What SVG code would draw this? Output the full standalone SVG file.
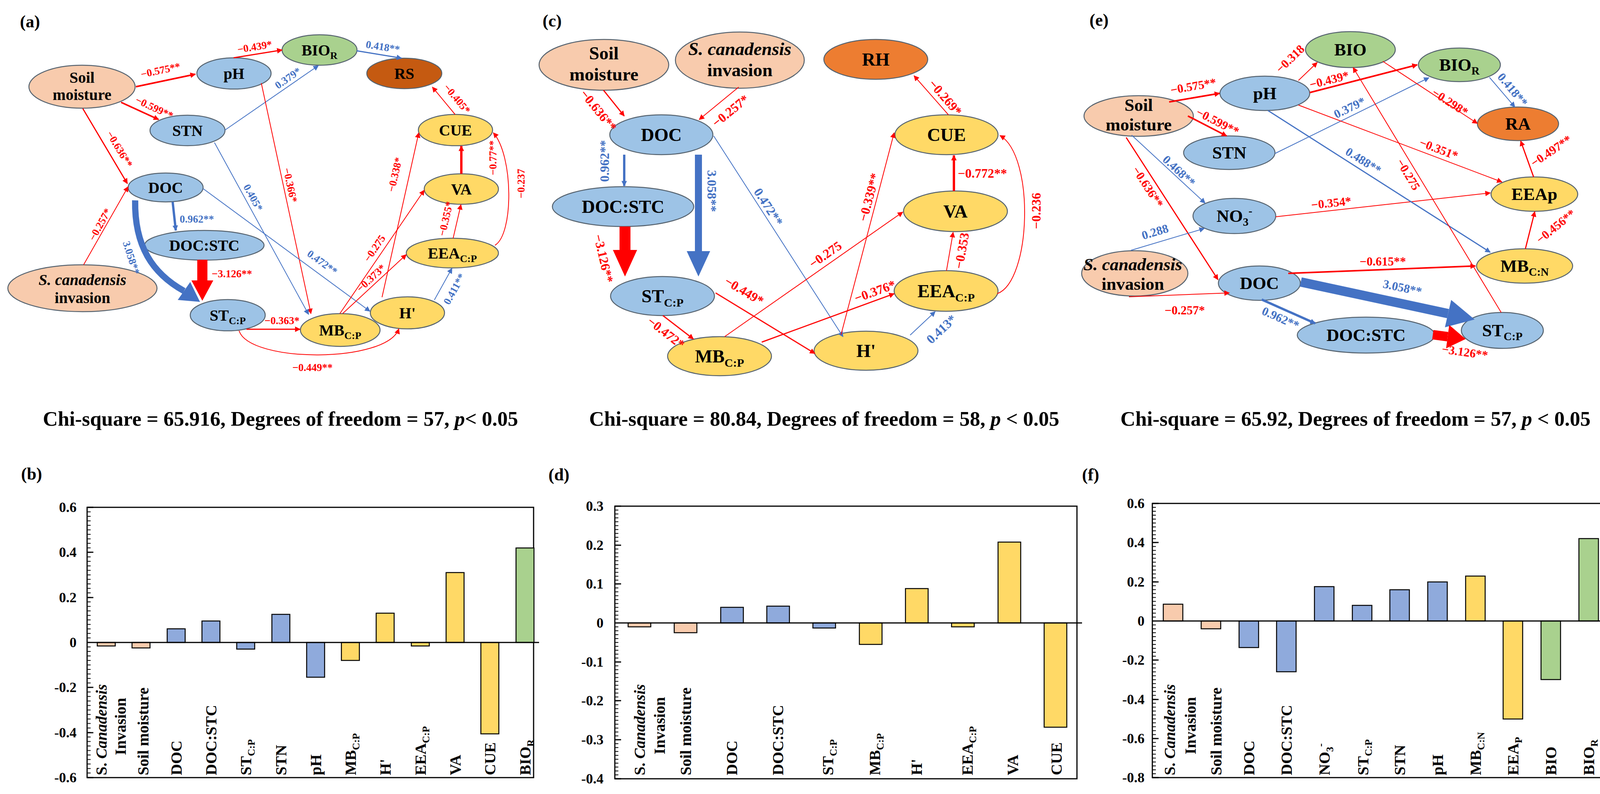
<svg xmlns="http://www.w3.org/2000/svg" width="4193" height="2033" viewBox="0 0 4193 2033">
<style>
text{font-family:"Liberation Serif","Times New Roman",serif;font-weight:bold}
.el{stroke:#56636f;stroke-width:2.5}
.pe{fill:#F8CBAD}.bl{fill:#9DC3E6}.ye{fill:#FFD966}.gr{fill:#A9D18E}.o1{fill:#C55A11}.o2{fill:#ED7D31}.bb{fill:#8FAADC}
.ta{font-size:40px;text-anchor:middle}
.tc{font-size:47px;text-anchor:middle}
.te{font-size:45px;text-anchor:middle}
.r{stroke:#FF0000;fill:none}
.b{stroke:#4472C4;fill:none}
.w2{stroke-width:2}.w3{stroke-width:3}.w4{stroke-width:4}.w5{stroke-width:6}
.ar{marker-end:url(#mr)}.ab{marker-end:url(#mb)}
.lr{fill:#FF0000}.lb{fill:#4472C4}
.la{font-size:27px;text-anchor:middle}
.lc{font-size:33px;text-anchor:middle}
.le{font-size:31px;text-anchor:middle}
.cap{font-size:53px;text-anchor:middle}
.pl{font-size:44px}
.tk{font-size:36px;text-anchor:end}
.xl{font-size:40px}
.xm{font-size:40px;text-anchor:middle}
.bar rect{stroke:#000;stroke-width:2.5}
.ax{stroke:#000;stroke-width:3;fill:none}
</style>
<defs>
<marker id="mr" viewBox="0 0 10 10" refX="9" refY="5" markerWidth="18" markerHeight="14" markerUnits="userSpaceOnUse" orient="auto"><path d="M0,0L10,5L0,10z" fill="#FF0000"/></marker>
<marker id="mb" viewBox="0 0 10 10" refX="9" refY="5" markerWidth="18" markerHeight="14" markerUnits="userSpaceOnUse" orient="auto"><path d="M0,0L10,5L0,10z" fill="#4472C4"/></marker>
<pattern id="tb" patternUnits="userSpaceOnUse" x="0" y="1298" width="10" height="11.53"><rect width="10" height="2" fill="#000"/></pattern>
<pattern id="td" patternUnits="userSpaceOnUse" x="0" y="1295" width="10" height="9.97"><rect width="10" height="2" fill="#000"/></pattern>
<pattern id="tf" patternUnits="userSpaceOnUse" x="0" y="1288" width="10" height="10.03"><rect width="10" height="2" fill="#000"/></pattern>
</defs>
<rect width="4193" height="2033" fill="#fff"/>

<g id="panel-labels">
<text class="pl" x="51" y="70">(a)</text>
<text class="pl" x="1389" y="68">(c)</text>
<text class="pl" x="2789" y="66">(e)</text>
<text class="pl" x="54" y="1228">(b)</text>
<text class="pl" x="1404" y="1230">(d)</text>
<text class="pl" x="2770" y="1230">(f)</text>
</g>

<!-- ===== Panel (a) nodes ===== -->
<g id="a-soil"><ellipse class="el pe" cx="210" cy="222" rx="136" ry="55"/><text class="ta"><tspan x="210" y="212">Soil</tspan><tspan x="210" y="256">moisture</tspan></text></g>
<g id="a-ph"><ellipse class="el bl" cx="599" cy="188" rx="95" ry="40"/><text class="ta" x="599" y="202">pH</text></g>
<g id="a-stn"><ellipse class="el bl" cx="480" cy="334" rx="96" ry="39"/><text class="ta" x="480" y="348">STN</text></g>
<g id="a-bior"><ellipse class="el gr" cx="818" cy="128" rx="96" ry="39"/><text class="ta" x="818" y="142">BIO<tspan font-size="26" dy="9">R</tspan></text></g>
<g id="a-rs"><ellipse class="el o1" cx="1035" cy="188" rx="96" ry="39"/><text class="ta" x="1035" y="202">RS</text></g>
<g id="a-cue"><ellipse class="el ye" cx="1166" cy="333" rx="95" ry="40"/><text class="ta" x="1166" y="347">CUE</text></g>
<g id="a-va"><ellipse class="el ye" cx="1181" cy="484" rx="95" ry="39"/><text class="ta" x="1181" y="498">VA</text></g>
<g id="a-eea"><ellipse class="el ye" cx="1158" cy="648" rx="118" ry="38"/><text class="ta" x="1158" y="662">EEA<tspan font-size="26" dy="9">C:P</tspan></text></g>
<g id="a-mb"><ellipse class="el ye" cx="871" cy="845" rx="102" ry="42"/><text class="ta" x="871" y="859">MB<tspan font-size="26" dy="9">C:P</tspan></text></g>
<g id="a-h"><ellipse class="el ye" cx="1043" cy="801" rx="95" ry="41"/><text class="ta" x="1043" y="815">H'</text></g>
<g id="a-doc"><ellipse class="el bl" cx="424" cy="480" rx="96" ry="37"/><text class="ta" x="424" y="494">DOC</text></g>
<g id="a-docstc"><ellipse class="el bl" cx="523" cy="628" rx="153" ry="38"/><text class="ta" x="523" y="642">DOC:STC</text></g>
<g id="a-scan"><ellipse class="el pe" cx="211" cy="738" rx="191" ry="60"/><text class="ta"><tspan x="211" y="730" font-style="italic">S. canadensis</tspan><tspan x="211" y="776">invasion</tspan></text></g>
<g id="a-st"><ellipse class="el bl" cx="583" cy="807" rx="96" ry="40"/><text class="ta" x="583" y="821">ST<tspan font-size="26" dy="9">C:P</tspan></text></g>

<!-- ===== Panel (c) nodes ===== -->
<g id="c-soil"><ellipse class="el pe" cx="1546" cy="166" rx="166" ry="65"/><text class="tc"><tspan x="1546" y="152">Soil</tspan><tspan x="1546" y="206">moisture</tspan></text></g>
<g id="c-scan"><ellipse class="el pe" cx="1894" cy="154" rx="165" ry="72"/><text class="tc"><tspan x="1894" y="141" font-style="italic">S. canadensis</tspan><tspan x="1894" y="195">invasion</tspan></text></g>
<g id="c-doc"><ellipse class="el bl" cx="1693" cy="345" rx="132" ry="51"/><text class="tc" x="1693" y="361">DOC</text></g>
<g id="c-docstc"><ellipse class="el bl" cx="1595" cy="529" rx="181" ry="51"/><text class="tc" x="1595" y="545">DOC:STC</text></g>
<g id="c-st"><ellipse class="el bl" cx="1696" cy="758" rx="133" ry="50"/><text class="tc" x="1696" y="774">ST<tspan font-size="30" dy="11">C:P</tspan></text></g>
<g id="c-rh"><ellipse class="el o2" cx="2242" cy="152" rx="133" ry="51"/><text class="tc" x="2242" y="168">RH</text></g>
<g id="c-cue"><ellipse class="el ye" cx="2423" cy="345" rx="132" ry="51"/><text class="tc" x="2423" y="361">CUE</text></g>
<g id="c-va"><ellipse class="el ye" cx="2446" cy="541" rx="133" ry="52"/><text class="tc" x="2446" y="557">VA</text></g>
<g id="c-eea"><ellipse class="el ye" cx="2422" cy="745" rx="133" ry="52"/><text class="tc" x="2422" y="761">EEA<tspan font-size="30" dy="11">C:P</tspan></text></g>
<g id="c-mb"><ellipse class="el ye" cx="1842" cy="912" rx="133" ry="50"/><text class="tc" x="1842" y="928">MB<tspan font-size="30" dy="11">C:P</tspan></text></g>
<g id="c-h"><ellipse class="el ye" cx="2217" cy="898" rx="133" ry="50"/><text class="tc" x="2217" y="914">H'</text></g>

<!-- ===== Panel (e) nodes ===== -->
<g id="e-soil"><ellipse class="el pe" cx="2915" cy="297" rx="140" ry="52"/><text class="te"><tspan x="2915" y="284">Soil</tspan><tspan x="2915" y="334">moisture</tspan></text></g>
<g id="e-ph"><ellipse class="el bl" cx="3238" cy="239" rx="115" ry="44"/><text class="te" x="3238" y="254">pH</text></g>
<g id="e-stn"><ellipse class="el bl" cx="3147" cy="391" rx="117" ry="43"/><text class="te" x="3147" y="406">STN</text></g>
<g id="e-no3"><ellipse class="el bl" cx="3160" cy="553" rx="106" ry="45"/><text class="te" x="3160" y="568">NO<tspan font-size="29" dy="10">3</tspan><tspan font-size="29" dy="-28">-</tspan></text></g>
<g id="e-scan"><ellipse class="el pe" cx="2905" cy="700" rx="136" ry="58"/><text class="te"><tspan x="2900" y="692" font-style="italic">S. canadensis</tspan><tspan x="2900" y="742">invasion</tspan></text></g>
<g id="e-doc"><ellipse class="el bl" cx="3224" cy="725" rx="105" ry="44"/><text class="te" x="3224" y="740">DOC</text></g>
<g id="e-docstc"><ellipse class="el bl" cx="3497" cy="858" rx="176" ry="46"/><text class="te" x="3497" y="873">DOC:STC</text></g>
<g id="e-st"><ellipse class="el bl" cx="3846" cy="846" rx="105" ry="46"/><text class="te" x="3846" y="861">ST<tspan font-size="29" dy="10">C:P</tspan></text></g>
<g id="e-bio"><ellipse class="el gr" cx="3457" cy="127" rx="115" ry="46"/><text class="te" x="3457" y="142">BIO</text></g>
<g id="e-bior"><ellipse class="el gr" cx="3736" cy="166" rx="105" ry="43"/><text class="te" x="3736" y="181">BIO<tspan font-size="29" dy="10">R</tspan></text></g>
<g id="e-ra"><ellipse class="el o2" cx="3886" cy="317" rx="104" ry="43"/><text class="te" x="3886" y="332">RA</text></g>
<g id="e-eeap"><ellipse class="el ye" cx="3928" cy="497" rx="111" ry="44"/><text class="te" x="3928" y="512">EEAp</text></g>
<g id="e-mbcn"><ellipse class="el ye" cx="3903" cy="681" rx="123" ry="44"/><text class="te" x="3903" y="696">MB<tspan font-size="29" dy="10">C:N</tspan></text></g>

<!-- ===== Connectors ===== -->
<g id="connectors">
<path class="r w4 ar" d="M348,222L500,190"/>
<path class="r w4 ar" d="M310,262L406,306"/>
<path class="r w3 ar" d="M212,278L326,470"/>
<path class="r w2 ar" d="M214,678L328,478"/>
<path class="r w3 ar" d="M598,148L722,128"/>
<path class="b w2 ab" d="M576,333L815,168"/>
<path class="b w3 ab" d="M913,130L1028,149"/>
<path class="r w2 ar" d="M669,213L796,803"/>
<path class="b w2 ab" d="M549,365L790,805"/>
<path class="b w2 ab" d="M520,483L947,797"/>
<path class="b w5 ab" d="M442,517L450,590"/>
<path d="M346,513C344,630 390,700 471,745" fill="none" stroke="#4472C4" stroke-width="16"/>
<polygon points="512,773 455,768 487,722" fill="#4472C4"/>
<rect x="505" y="665" width="26" height="55" fill="#FF0000"/>
<polygon points="490,718 546,718 518,770" fill="#FF0000"/>
<path class="r w3 ar" d="M631,843L768,843"/>
<path class="r w2 ar" d="M612,847C640,930 990,930 1021,842"/>
<path class="r w2 ar" d="M870,803L1086,487"/>
<path class="r w2 ar" d="M877,803L1040,652"/>
<path class="r w2 ar" d="M978,761L1072,340"/>
<path class="r w2 ar" d="M1160,610L1180,524"/>
<path class="r w5 ar" d="M1181,445L1181,374"/>
<path class="r w2 ar" d="M1267,628C1315,600 1315,400 1263,340"/>
<path class="b w2 ab" d="M1112,768L1157,687"/>
<path class="r w2 ar" d="M1165,293L1107,223"/>

<path class="r w3 ar" d="M1545,231L1598,297"/>
<path class="r w2 ar" d="M1891,223L1790,306"/>
<path class="b w5 ab" d="M1598,396L1598,476"/>
<rect x="1779" y="396" width="18" height="250" fill="#4472C4"/>
<polygon points="1758,643 1818,643 1788,708" fill="#4472C4"/>
<rect x="1586" y="580" width="28" height="62" fill="#FF0000"/>
<polygon points="1569,640 1631,640 1600,708" fill="#FF0000"/>
<path class="b w2 ab" d="M1827,348L2158,862"/>
<path class="r w3 ar" d="M1832,750L2086,905"/>
<path class="r w3 ar" d="M1697,808L1775,868"/>
<path class="r w2 ar" d="M1855,862L2311,543"/>
<path class="r w3 ar" d="M1950,876L2289,752"/>
<path class="r w2 ar" d="M2153,857L2289,340"/>
<path class="r w5 ar" d="M2442,489L2442,398"/>
<path class="r w2 ar" d="M2423,693L2440,595"/>
<path class="r w2 ar" d="M2553,752C2640,720 2650,400 2560,347"/>
<path class="r w2 ar" d="M2428,294L2340,194"/>
<path class="b w2 ab" d="M2330,858L2394,798"/>

<path class="r w4 ar" d="M2993,261L3122,239"/>
<path class="r w4 ar" d="M3041,297L3140,348"/>
<path class="b w2 ab" d="M2897,346L3085,520"/>
<path class="r w3 ar" d="M2883,352L3118,716"/>
<path class="b w2 ab" d="M2895,641L3083,585"/>
<path class="r w2 ar" d="M2890,760L3147,750"/>
<path class="b w5 ab" d="M3230,767L3367,828"/>
<path d="M3330,722L3707,803" fill="none" stroke="#4472C4" stroke-width="24"/>
<polygon points="3775,818 3699,838 3715,768" fill="#4472C4"/>
<path d="M3668,857L3706,862" fill="none" stroke="#FF0000" stroke-width="24"/>
<polygon points="3752,868 3702,892 3710,832" fill="#FF0000"/>
<path class="r w4 ar" d="M3298,700L3777,681"/>
<path class="r w2 ar" d="M3266,555L3815,494"/>
<path class="r w2 ar" d="M3324,206L3372,160"/>
<path class="r w4 ar" d="M3353,237L3628,166"/>
<path class="b w2 ab" d="M3264,393L3658,199"/>
<path class="b w3 ab" d="M3246,283L3815,646"/>
<path class="r w2 ar" d="M3324,269L3845,466"/>
<path class="r w2 ar" d="M3540,157L3782,316"/>
<path class="b w2 ab" d="M3813,198L3878,274"/>
<path class="r w3 ar" d="M3926,453L3893,361"/>
<path class="r w3 ar" d="M3905,637L3929,542"/>
<path class="r w2 ar" d="M3843,800L3464,173"/>
</g>

<g id="edge-labels">
<text class="lr la" transform="translate(411,180) rotate(-12)" y="9">−0.575**</text>
<text class="lr la" transform="translate(395,276) rotate(25)" y="9">−0.599**</text>
<text class="lr la" transform="translate(306,382) rotate(59)" y="9">−0.636**</text>
<text class="lr la" transform="translate(256,575) rotate(-61)" y="9">−0.257*</text>
<text class="lb la" x="460" y="570" style="text-anchor:start">0.962**</text>
<text class="lb la" transform="translate(336,660) rotate(72)" y="9">3.058**</text>
<text class="lr la" x="542" y="710" style="text-anchor:start">−3.126**</text>
<text class="lb la" transform="translate(825,672) rotate(36)" y="9">0.472**</text>
<text class="lb la" transform="translate(648,506) rotate(61)" y="9">0.405*</text>
<text class="lb la" transform="translate(737,200) rotate(-35)" y="9">0.379*</text>
<text class="lr la" transform="translate(652,120) rotate(-9)" y="9">−0.439*</text>
<text class="lr la" transform="translate(743,474) rotate(78)" y="9">−0.366*</text>
<text class="lb la" transform="translate(980,120) rotate(9)" y="9">0.418**</text>
<text class="lr la" transform="translate(1170,253) rotate(50)" y="9">−0.405*</text>
<text class="lr la" transform="translate(959,636) rotate(-56)" y="9">−0.275</text>
<text class="lr la" transform="translate(950,712) rotate(-43)" y="9">−0.373*</text>
<text class="lr la" transform="translate(1011,447) rotate(-77)" y="9">−0.338*</text>
<text class="lr la" transform="translate(1141,560) rotate(-77)" y="9">−0.355*</text>
<text class="lr la" transform="translate(1262,404) rotate(-90)" y="9">−0.77**</text>
<text class="lr la" transform="translate(1334,470) rotate(-90)" y="9">−0.237</text>
<text class="lb la" transform="translate(1163,740) rotate(-61)" y="9">0.411**</text>
<text class="lr la" x="677" y="830" style="text-anchor:start">−0.363*</text>
<text class="lr la" x="800" y="950">−0.449**</text>

<text class="lr lc" transform="translate(1532,283) rotate(51)" y="11">−0.636**</text>
<text class="lr lc" transform="translate(1870,284) rotate(-39)" y="11">−0.257*</text>
<text class="lb lc" transform="translate(1548,412) rotate(-90)" y="11">0.962**</text>
<text class="lb lc" transform="translate(1822,489) rotate(90)" y="11">3.058**</text>
<text class="lr lc" transform="translate(1545,662) rotate(77)" y="11">−3.126**</text>
<text class="lb lc" transform="translate(1967,530) rotate(57)" y="11">0.472**</text>
<text class="lr lc" transform="translate(1905,745) rotate(31)" y="11">−0.449*</text>
<text class="lr lc" transform="translate(1705,852) rotate(38)" y="11">−0.472*</text>
<text class="lr lc" transform="translate(2113,652) rotate(-35)" y="11">−0.275</text>
<text class="lr lc" transform="translate(2240,746) rotate(-20)" y="11">−0.376*</text>
<text class="lr lc" transform="translate(2225,505) rotate(-75)" y="11">−0.339**</text>
<text class="lr lc" x="2452" y="455" style="text-anchor:start">−0.772**</text>
<text class="lr lc" transform="translate(2462,642) rotate(-80)" y="11">−0.353</text>
<text class="lr lc" transform="translate(2653,540) rotate(-90)" y="11">−0.236</text>
<text class="lr lc" transform="translate(2420,250) rotate(49)" y="11">−0.269*</text>
<text class="lb lc" transform="translate(2410,843) rotate(-43)" y="11">0.413*</text>

<text class="lr le" transform="translate(3055,221) rotate(-10)" y="10">−0.575**</text>
<text class="lr le" transform="translate(3117,312) rotate(27)" y="10">−0.599**</text>
<text class="lb le" transform="translate(3018,438) rotate(43)" y="10">0.468**</text>
<text class="lr le" transform="translate(2938,479) rotate(57)" y="10">−0.636**</text>
<text class="lb le" transform="translate(2957,594) rotate(-17)" y="10">0.288</text>
<text class="lr le" x="3033" y="805">−0.257*</text>
<text class="lb le" transform="translate(3278,815) rotate(24)" y="10">0.962**</text>
<text class="lb le" transform="translate(3590,737) rotate(12)" y="10">3.058**</text>
<text class="lr le" transform="translate(3750,902) rotate(8)" y="10">−3.126**</text>
<text class="lr le" x="3540" y="680">−0.615**</text>
<text class="lr le" transform="translate(3408,520) rotate(-6)" y="10">−0.354*</text>
<text class="lr le" transform="translate(3303,151) rotate(-44)" y="10">−0.318</text>
<text class="lr le" transform="translate(3403,205) rotate(-14)" y="10">−0.439*</text>
<text class="lb le" transform="translate(3455,276) rotate(-26)" y="10">0.379*</text>
<text class="lb le" transform="translate(3490,412) rotate(32)" y="10">0.488**</text>
<text class="lr le" transform="translate(3683,382) rotate(21)" y="10">−0.351*</text>
<text class="lr le" transform="translate(3712,262) rotate(33)" y="10">−0.298*</text>
<text class="lb le" transform="translate(3872,230) rotate(50)" y="10">0.418**</text>
<text class="lr le" transform="translate(3971,387) rotate(-34)" y="10">−0.497**</text>
<text class="lr le" transform="translate(3983,580) rotate(-39)" y="10">−0.456**</text>
<text class="lr le" transform="translate(3605,447) rotate(59)" y="10">−0.275</text>
</g>

<g id="captions">
<text class="cap" x="718" y="1090">Chi-square = 65.916, Degrees of freedom = 57, <tspan font-style="italic">p</tspan>&lt; 0.05</text>
<text class="cap" x="2110" y="1090">Chi-square = 80.84, Degrees of freedom = 58, <tspan font-style="italic">p</tspan> &lt; 0.05</text>
<text class="cap" x="3470" y="1090">Chi-square = 65.92, Degrees of freedom = 57, <tspan font-style="italic">p</tspan> &lt; 0.05</text>
</g>

<!-- ===== Chart (b) ===== -->
<g id="chart-b">
<rect x="223" y="1298" width="9" height="695" fill="url(#tb)"/>
<path class="ax" d="M223,1299h16M223,1414h16M223,1530h16M223,1760h16M223,1876h16M223,1991h16"/>
<rect class="ax" x="223" y="1299" width="1143" height="692"/>
<g class="bar">
<rect class="pe" x="249" y="1645" width="46" height="9"/>
<rect class="pe" x="338" y="1645" width="46" height="14"/>
<rect class="bb" x="428" y="1610" width="46" height="35"/>
<rect class="bb" x="517" y="1590" width="46" height="55"/>
<rect class="bb" x="606" y="1645" width="46" height="17"/>
<rect class="bb" x="696" y="1573" width="46" height="72"/>
<rect class="bb" x="785" y="1645" width="46" height="89"/>
<rect class="ye" x="874" y="1645" width="46" height="46"/>
<rect class="ye" x="963" y="1570" width="46" height="75"/>
<rect class="ye" x="1053" y="1645" width="46" height="9"/>
<rect class="ye" x="1142" y="1466" width="46" height="179"/>
<rect class="ye" x="1231" y="1645" width="46" height="234"/>
<rect class="gr" x="1321" y="1403" width="46" height="242"/>
</g>
<path class="ax" d="M223,1645H1380"/>
<text class="tk" x="196" y="1311">0.6</text>
<text class="tk" x="196" y="1426">0.4</text>
<text class="tk" x="196" y="1542">0.2</text>
<text class="tk" x="196" y="1657">0</text>
<text class="tk" x="196" y="1772">-0.2</text>
<text class="tk" x="196" y="1888">-0.4</text>
<text class="tk" x="196" y="2003">-0.6</text>
<text class="xl" transform="translate(273,1985) rotate(-90)">S. <tspan font-style="italic">Canadensis</tspan></text>
<text class="xm" transform="translate(322,1860) rotate(-90)">Invasion</text>
<text class="xl" transform="translate(380,1985) rotate(-90)">Soil moisture</text>
<text class="xl" transform="translate(465,1985) rotate(-90)">DOC</text>
<text class="xl" transform="translate(554,1985) rotate(-90)">DOC:STC</text>
<text class="xl" transform="translate(643,1985) rotate(-90)">ST<tspan font-size="26" dy="9">C:P</tspan></text>
<text class="xl" transform="translate(733,1985) rotate(-90)">STN</text>
<text class="xl" transform="translate(822,1985) rotate(-90)">pH</text>
<text class="xl" transform="translate(911,1985) rotate(-90)">MB<tspan font-size="26" dy="9">C:P</tspan></text>
<text class="xl" transform="translate(1000,1985) rotate(-90)">H'</text>
<text class="xl" transform="translate(1090,1985) rotate(-90)">EEA<tspan font-size="26" dy="9">C:P</tspan></text>
<text class="xl" transform="translate(1179,1985) rotate(-90)">VA</text>
<text class="xl" transform="translate(1268,1985) rotate(-90)">CUE</text>
<text class="xl" transform="translate(1358,1985) rotate(-90)">BIO<tspan font-size="26" dy="9">R</tspan></text>
</g>

<!-- ===== Chart (d) ===== -->
<g id="chart-d">
<rect x="1574" y="1295" width="9" height="701" fill="url(#td)"/>
<path class="ax" d="M1574,1296h16M1574,1396h16M1574,1495h16M1574,1695h16M1574,1794h16M1574,1894h16M1574,1994h16"/>
<rect class="ax" x="1574" y="1296" width="1183" height="698"/>
<g class="bar">
<rect class="pe" x="1608" y="1595" width="58" height="10"/>
<rect class="pe" x="1726" y="1595" width="58" height="25"/>
<rect class="bb" x="1845" y="1555" width="58" height="40"/>
<rect class="bb" x="1963" y="1552" width="58" height="43"/>
<rect class="bb" x="2081" y="1595" width="58" height="13"/>
<rect class="ye" x="2200" y="1595" width="58" height="55"/>
<rect class="ye" x="2318" y="1507" width="58" height="88"/>
<rect class="ye" x="2436" y="1595" width="58" height="10"/>
<rect class="ye" x="2555" y="1388" width="58" height="207"/>
<rect class="ye" x="2673" y="1595" width="58" height="267"/>
</g>
<path class="ax" d="M1574,1595H2770"/>
<text class="tk" x="1545" y="1308">0.3</text>
<text class="tk" x="1545" y="1408">0.2</text>
<text class="tk" x="1545" y="1507">0.1</text>
<text class="tk" x="1545" y="1607">0</text>
<text class="tk" x="1545" y="1707">-0.1</text>
<text class="tk" x="1545" y="1806">-0.2</text>
<text class="tk" x="1545" y="1906">-0.3</text>
<text class="tk" x="1545" y="2006">-0.4</text>
<text class="xl" transform="translate(1651,1985) rotate(-90)">S. <tspan font-style="italic">Canadensis</tspan></text>
<text class="xm" transform="translate(1702,1858) rotate(-90)">Invasion</text>
<text class="xl" transform="translate(1769,1985) rotate(-90)">Soil moisture</text>
<text class="xl" transform="translate(1887,1985) rotate(-90)">DOC</text>
<text class="xl" transform="translate(2005,1985) rotate(-90)">DOC:STC</text>
<text class="xl" transform="translate(2133,1985) rotate(-90)">ST<tspan font-size="26" dy="9">C:P</tspan></text>
<text class="xl" transform="translate(2253,1985) rotate(-90)">MB<tspan font-size="26" dy="9">C:P</tspan></text>
<text class="xl" transform="translate(2360,1985) rotate(-90)">H'</text>
<text class="xl" transform="translate(2490,1985) rotate(-90)">EEA<tspan font-size="26" dy="9">C:P</tspan></text>
<text class="xl" transform="translate(2606,1985) rotate(-90)">VA</text>
<text class="xl" transform="translate(2718,1985) rotate(-90)">CUE</text>
</g>

<!-- ===== Chart (f) ===== -->
<g id="chart-f">
<rect x="2950" y="1288" width="9" height="705" fill="url(#tf)"/>
<path class="ax" d="M2950,1289h16M2950,1389h16M2950,1490h16M2950,1690h16M2950,1791h16M2950,1891h16M2950,1991h16"/>
<rect class="ax" x="2950" y="1289" width="1160" height="702"/>
<g class="bar">
<rect class="pe" x="2978" y="1547" width="50" height="43"/>
<rect class="pe" x="3075" y="1590" width="50" height="20"/>
<rect class="bb" x="3172" y="1590" width="50" height="68"/>
<rect class="bb" x="3268" y="1590" width="50" height="130"/>
<rect class="bb" x="3365" y="1502" width="50" height="88"/>
<rect class="bb" x="3462" y="1550" width="50" height="40"/>
<rect class="bb" x="3558" y="1510" width="50" height="80"/>
<rect class="bb" x="3655" y="1490" width="50" height="100"/>
<rect class="ye" x="3752" y="1475" width="50" height="115"/>
<rect class="ye" x="3848" y="1590" width="50" height="251"/>
<rect class="gr" x="3945" y="1590" width="50" height="150"/>
<rect class="gr" x="4042" y="1379" width="50" height="211"/>
</g>
<path class="ax" d="M2950,1590H4122"/>
<text class="tk" x="2930" y="1301">0.6</text>
<text class="tk" x="2930" y="1401">0.4</text>
<text class="tk" x="2930" y="1502">0.2</text>
<text class="tk" x="2930" y="1602">0</text>
<text class="tk" x="2930" y="1702">-0.2</text>
<text class="tk" x="2930" y="1803">-0.4</text>
<text class="tk" x="2930" y="1903">-0.6</text>
<text class="tk" x="2930" y="2003">-0.8</text>
<text class="xl" transform="translate(3008,1985) rotate(-90)">S. <tspan font-style="italic">Canadensis</tspan></text>
<text class="xm" transform="translate(3061,1858) rotate(-90)">Invasion</text>
<text class="xl" transform="translate(3127,1985) rotate(-90)">Soil moisture</text>
<text class="xl" transform="translate(3211,1985) rotate(-90)">DOC</text>
<text class="xl" transform="translate(3307,1985) rotate(-90)">DOC:STC</text>
<text class="xl" transform="translate(3404,1985) rotate(-90)">NO<tspan font-size="26" dy="9">3</tspan><tspan font-size="26" dy="-24">-</tspan></text>
<text class="xl" transform="translate(3503,1985) rotate(-90)">ST<tspan font-size="26" dy="9">C:P</tspan></text>
<text class="xl" transform="translate(3597,1985) rotate(-90)">STN</text>
<text class="xl" transform="translate(3694,1985) rotate(-90)">pH</text>
<text class="xl" transform="translate(3791,1985) rotate(-90)">MB<tspan font-size="26" dy="9">C:N</tspan></text>
<text class="xl" transform="translate(3887,1985) rotate(-90)">EEA<tspan font-size="26" dy="9">P</tspan></text>
<text class="xl" transform="translate(3984,1985) rotate(-90)">BIO</text>
<text class="xl" transform="translate(4081,1985) rotate(-90)">BIO<tspan font-size="26" dy="9">R</tspan></text>
</g>
</svg>
